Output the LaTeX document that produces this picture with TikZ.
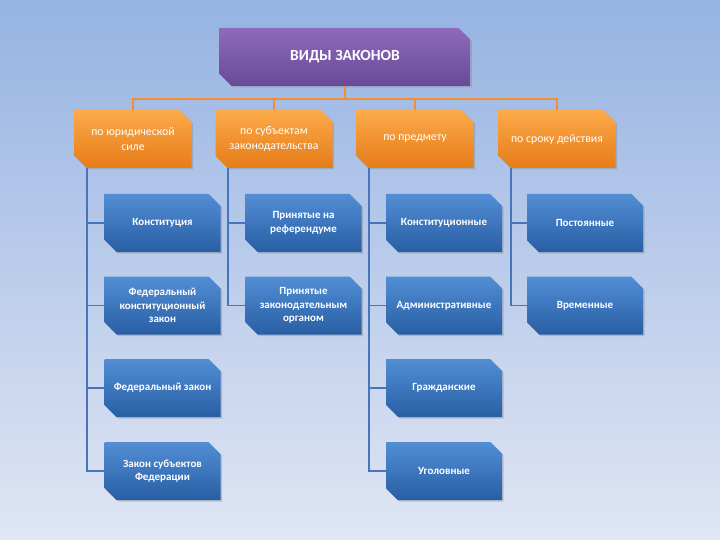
\documentclass[tikz,border=0pt]{standalone}
\usepackage{fontspec}
\setmainfont{Carlito}
\usetikzlibrary{shapes.misc,shadows,positioning}

\definecolor{bgtop}{RGB}{150,179,226}
\definecolor{bgbot}{RGB}{224,230,244}
\definecolor{purptop}{RGB}{142,106,186}
\definecolor{purpbot}{RGB}{104,74,152}
\definecolor{orgtop}{RGB}{252,170,74}
\definecolor{orgbot}{RGB}{230,124,24}
\definecolor{blutop}{RGB}{82,142,212}
\definecolor{blubot}{RGB}{40,94,164}
\definecolor{orgline}{RGB}{242,142,52}
\definecolor{bluline}{RGB}{72,116,186}

\begin{document}
\begin{tikzpicture}[x=1pt,y=-1pt,
  snip/.style={chamfered rectangle,
    chamfered rectangle corners={north east,south west},
    chamfered rectangle xsep=6pt,chamfered rectangle ysep=6pt,
    inner xsep=0pt,inner ysep=2pt,text=white,align=center,
    drop shadow={shadow xshift=1.5pt,shadow yshift=-1.5pt,opacity=.35}},
  head/.style={snip,minimum width=251pt,minimum height=58pt,
    top color=purptop,bottom color=purpbot,
    font=\fontsize{15.5}{18}\selectfont\bfseries},
  cat/.style={snip,minimum width=117pt,minimum height=58pt,
    top color=orgtop,bottom color=orgbot,
    font=\fontsize{11.8}{14.5}\selectfont},
  leaf/.style={snip,minimum width=116pt,minimum height=58pt,
    top color=blutop,bottom color=blubot,
    font=\fontsize{11}{13.5}\selectfont\bfseries},
  bus/.style={draw=orgline,line width=2pt},
  link/.style={draw=bluline,line width=1.8pt}]

\shade[top color=bgtop,bottom color=bgbot] (0,0) rectangle (720,540);
\useasboundingbox (0,0) rectangle (720,540);

\node[head] (title) at (345,57) {ВИДЫ ЗАКОНОВ};

\node[cat] (c1) at (133,139) {по юридической\\силе};
\node[cat] (c2) at (274,139) {по субъектам\\законодательства};
\node[cat] (c3) at (415,139) {по предмету};
\node[cat] (c4) at (557,139) {по сроку действия};

\node[leaf] (k11) at (162.5,223) {Конституция};
\node[leaf] (k12) at (162.5,305.5) {Федеральный\\конституционный\\закон};
\node[leaf] (k13) at (162.5,388) {Федеральный закон};
\node[leaf] (k14) at (162.5,471) {Закон субъектов\\Федерации};

\node[leaf] (k21) at (303.5,223) {Принятые на\\референдуме};
\node[leaf] (k22) at (303.5,305.5) {Принятые\\законодательным\\органом};

\node[leaf] (k31) at (444,223) {Конституционные};
\node[leaf] (k32) at (444,305.5) {Административные};
\node[leaf] (k33) at (444,388) {Гражданские};
\node[leaf] (k34) at (444,471) {Уголовные};

\node[leaf] (k41) at (585,223) {Постоянные};
\node[leaf] (k42) at (585,305.5) {Временные};

\coordinate (fork) at (345,99);
\draw[bus] (title.south) -- (fork);
\foreach \c in {c1,c2,c3,c4}
  \draw[bus] (fork) -| (\c.north);

\coordinate (t1) at ([xshift=-46pt]c1.south);
\coordinate (t2) at ([xshift=-46pt]c2.south);
\coordinate (t3) at ([xshift=-46pt]c3.south);
\coordinate (t4) at ([xshift=-46pt]c4.south);
\foreach \k in {k11,k12,k13,k14}
  \draw[link] (t1) |- (\k.west);
\foreach \k in {k21,k22}
  \draw[link] (t2) |- (\k.west);
\foreach \k in {k31,k32,k33,k34}
  \draw[link] (t3) |- (\k.west);
\foreach \k in {k41,k42}
  \draw[link] (t4) |- (\k.west);
\end{tikzpicture}
\end{document}
